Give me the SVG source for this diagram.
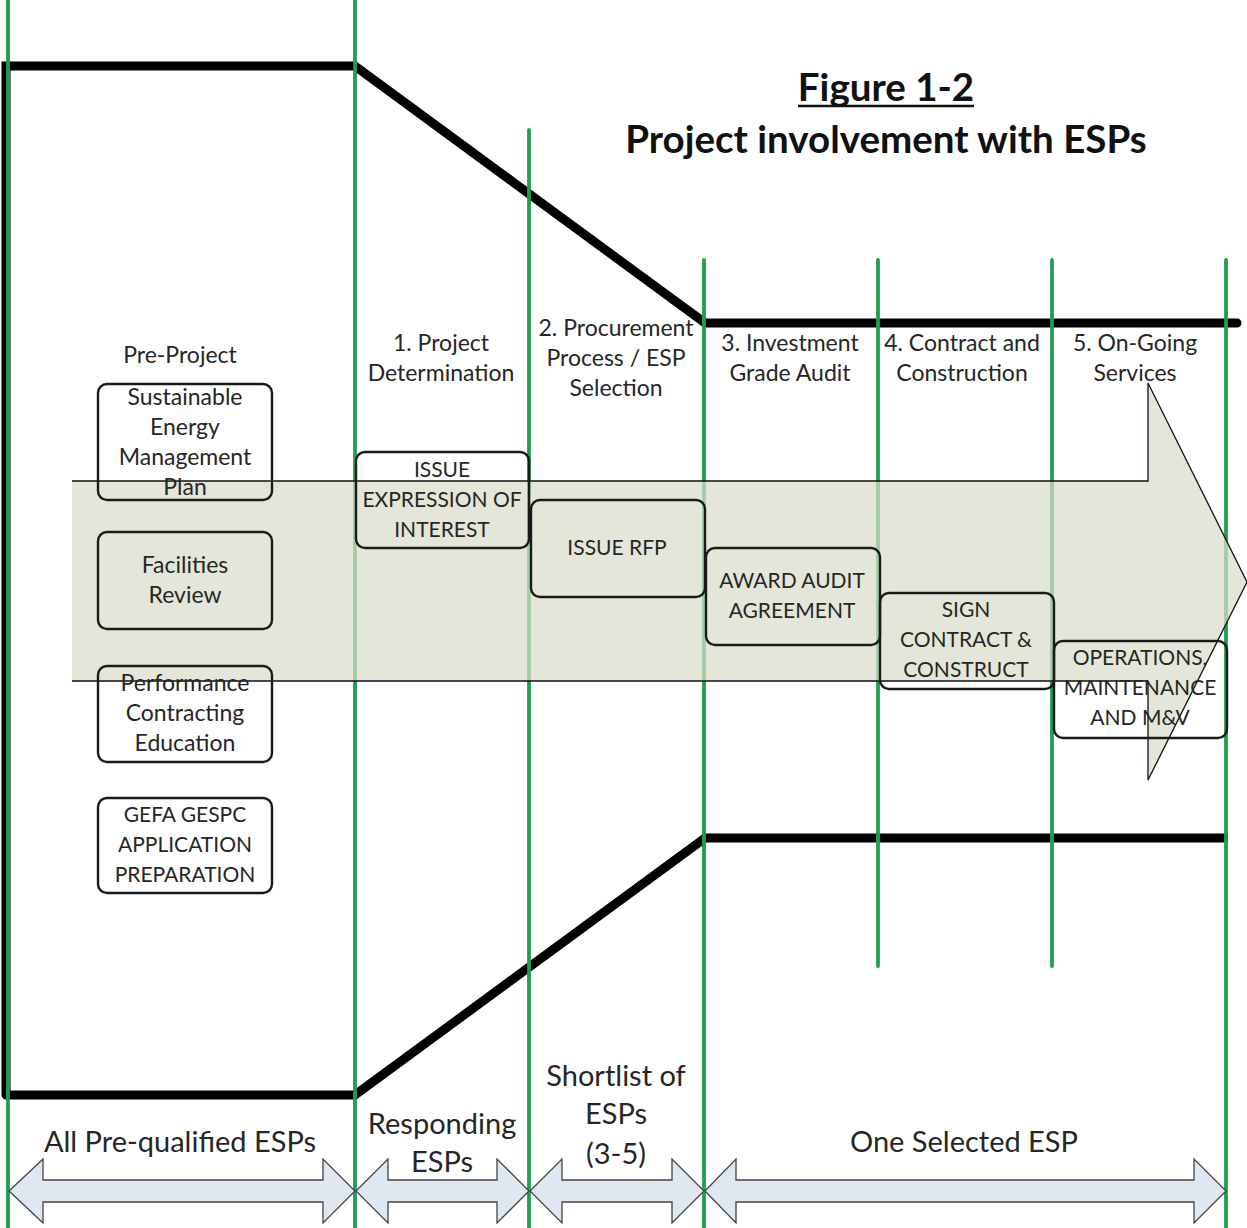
<svg xmlns="http://www.w3.org/2000/svg" width="1247" height="1228" viewBox="0 0 1247 1228">
<defs>
<style>
text{font-family:Lato,"Open Sans","Liberation Sans",sans-serif;fill:#262626;text-anchor:middle}
.lbl{font-size:23px}
.up{font-size:21px}
.box{fill:none;stroke:#1a1a1a;stroke-width:2.4}
.bar{fill:none;stroke:#000;stroke-width:9;stroke-linejoin:miter}
.grn{stroke:#1f9e50;stroke-width:3.8;stroke-linecap:round}
.dbl{fill:#dfe7f1;stroke:#444;stroke-width:1.3}
.big{font-size:29px}
.title{font-size:38.5px;font-weight:bold;fill:#111}
</style>
</defs>
<rect width="1247" height="1228" fill="#fff"/>
<g id="black-lines">
<path class="bar" d="M6,1095 L6,66 L355,66 L705,323 L1237,323" stroke-linecap="round"/>
<path class="bar" d="M6,1095 L355,1095 L705,838 L1228,838"/>
</g>
<g id="phase-lines">
<line class="grn" x1="8" y1="0" x2="8" y2="1228"/>
<line class="grn" x1="355" y1="0" x2="355" y2="1228"/>
<line class="grn" x1="529" y1="130" x2="529" y2="1228"/>
<line class="grn" x1="704" y1="260" x2="704" y2="1228"/>
<line class="grn" x1="878" y1="260" x2="878" y2="966"/>
<line class="grn" x1="1052" y1="260" x2="1052" y2="966"/>
<line class="grn" x1="1226" y1="260" x2="1226" y2="1228"/>
</g>
<g id="big-arrow">
<polygon points="72,481 1148,481 1148,383 1247,582 1148,780 1148,681 72,681" fill="#d9dccb" fill-opacity="0.72"/>
<polyline points="72,481 1148,481 1148,383 1247,582 1148,780 1148,681 72,681" fill="none" stroke="#111" stroke-width="1.3"/>
</g>
<g id="title">
<text class="title" x="886" y="101">Figure 1-2</text>
<line x1="798" y1="106" x2="974" y2="106" stroke="#111" stroke-width="2.5"/>
<text class="title" x="886" y="153">Project involvement with ESPs</text>
</g>
<g id="headers" class="lbl">
<text x="180" y="363">Pre-Project</text>
<text x="441" y="351">1. Project<tspan x="441" dy="30">Determination</tspan></text>
<text x="616" y="336">2. Procurement<tspan x="616" dy="30">Process / ESP</tspan><tspan x="616" dy="30">Selection</tspan></text>
<text x="790" y="351">3. Investment<tspan x="790" dy="30">Grade Audit</tspan></text>
<text x="962" y="351">4. Contract and<tspan x="962" dy="30">Construction</tspan></text>
<text x="1135" y="351">5. On-Going<tspan x="1135" dy="30">Services</tspan></text>
</g>
<g id="node-sustainable">
<rect class="box" x="98" y="384" width="174" height="116" rx="9"/>
<text class="lbl" x="185" y="405">Sustainable<tspan x="185" dy="30">Energy</tspan><tspan x="185" dy="30">Management</tspan><tspan x="185" dy="30">Plan</tspan></text>
</g>
<g id="node-facilities">
<rect class="box" x="98" y="532" width="174" height="97" rx="9"/>
<text class="lbl" x="185" y="573">Facilities<tspan x="185" dy="30">Review</tspan></text>
</g>
<g id="node-performance">
<rect class="box" x="98" y="666" width="174" height="96" rx="9"/>
<text class="lbl" x="185" y="691">Performance<tspan x="185" dy="30">Contracting</tspan><tspan x="185" dy="30">Education</tspan></text>
</g>
<g id="node-gefa">
<rect class="box" x="98" y="798" width="174" height="95" rx="9"/>
<text class="up" x="185" y="822">GEFA GESPC<tspan x="185" dy="30">APPLICATION</tspan><tspan x="185" dy="30">PREPARATION</tspan></text>
</g>
<g id="node-eoi">
<rect class="box" x="356" y="452" width="173" height="96" rx="9"/>
<text class="up" x="442" y="477">ISSUE<tspan x="442" dy="30">EXPRESSION OF</tspan><tspan x="442" dy="30">INTEREST</tspan></text>
</g>
<g id="node-rfp">
<rect class="box" x="531" y="500" width="174" height="97" rx="9"/>
<text class="up" x="617" y="555">ISSUE RFP</text>
</g>
<g id="node-audit">
<rect class="box" x="706" y="548" width="174" height="97" rx="9"/>
<text class="up" x="792" y="588">AWARD AUDIT<tspan x="792" dy="30">AGREEMENT</tspan></text>
</g>
<g id="node-sign">
<rect class="box" x="880" y="593" width="174" height="96" rx="9"/>
<text class="up" x="966" y="617">SIGN<tspan x="966" dy="30">CONTRACT &amp;</tspan><tspan x="966" dy="30">CONSTRUCT</tspan></text>
</g>
<g id="node-operations">
<rect class="box" x="1054" y="641" width="173" height="97" rx="9"/>
<text class="up" x="1140" y="665">OPERATIONS,<tspan x="1140" dy="30">MAINTENANCE</tspan><tspan x="1140" dy="30">AND M&amp;V</tspan></text>
</g>
<g id="bottom-arrows">
<polygon class="dbl" points="9,1191 43,1159 43,1180 323,1180 323,1159 355,1191 323,1223 323,1202 43,1202 43,1223"/>
<polygon class="dbl" points="356,1191 388,1159 388,1180 497,1180 497,1159 529,1191 497,1223 497,1202 388,1202 388,1223"/>
<polygon class="dbl" points="530,1191 562,1159 562,1180 672,1180 672,1159 704,1191 672,1223 672,1202 562,1202 562,1223"/>
<polygon class="dbl" points="705,1191 736,1159 736,1180 1194,1180 1194,1159 1226,1191 1194,1223 1194,1202 736,1202 736,1223"/>
</g>
<g id="bottom-labels" class="big">
<text x="180" y="1152">All Pre-qualified ESPs</text>
<text x="442" y="1134">Responding<tspan x="442" dy="38">ESPs</tspan></text>
<text x="616" y="1086">Shortlist of<tspan x="616" dy="38">ESPs</tspan><tspan x="616" dy="40">(3-5)</tspan></text>
<text x="964" y="1152">One Selected ESP</text>
</g>
</svg>
